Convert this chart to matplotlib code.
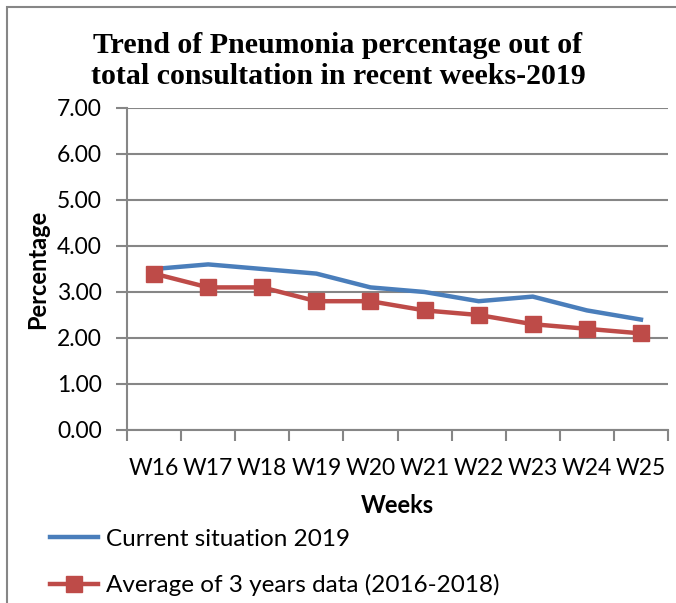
import matplotlib.pyplot as plt
import matplotlib.patches as patches
import numpy as np

# ---------- data ----------
weeks = ["W16", "W17", "W18", "W19", "W20", "W21", "W22", "W23", "W24", "W25"]
current_2019 = [3.5, 3.6, 3.5, 3.4, 3.1, 3.0, 2.8, 2.9, 2.6, 2.4]
avg_2016_2018 = [3.4, 3.1, 3.1, 2.8, 2.8, 2.6, 2.5, 2.3, 2.2, 2.1]

sans = ["Lato", "DejaVu Sans"]
serif = ["Liberation Serif", "DejaVu Serif"]

fig = plt.figure(figsize=(6.76, 6.03), dpi=100)
ax = fig.add_axes([127 / 676, 173 / 603, 541 / 676, 322 / 603])

x = np.arange(len(weeks))
ax.plot(x, current_2019, color="#4A7EBB", linewidth=3.2, label="Current situation 2019")
ax.plot(x, avg_2016_2018, color="#BE4B48", linewidth=3.2, marker="s", markersize=11,
        label="Average of 3 years data (2016-2018)")

ax.set_xlim(-0.5, len(weeks) - 0.5)
ax.set_ylim(0, 7)
ax.set_yticks(np.arange(0, 7.01, 1))
ax.set_yticklabels([f"{v:.2f}" for v in np.arange(0, 7.01, 1)], fontsize=16.5, family=sans)
ax.set_xticks(x)
ax.set_xticklabels(weeks, fontsize=16.5, family=sans)
ax.set_xticks(np.arange(-0.5, len(weeks), 1), minor=True)
ax.tick_params(axis="x", which="major", length=0, pad=20)
ax.tick_params(axis="x", which="minor", length=8, color="#868686", width=1.5)
ax.tick_params(axis="y", length=8, color="#868686", width=1.5, pad=10)

ax.grid(axis="y", color="#868686", linewidth=1.5)
ax.set_axisbelow(True)
for s in ["top", "right"]:
    ax.spines[s].set_visible(False)
for s in ["left", "bottom"]:
    ax.spines[s].set_color("#868686")
    ax.spines[s].set_linewidth(1.5)

ax.set_xlabel("Weeks", fontsize=17, fontweight="bold", family=sans, labelpad=11)
ax.set_ylabel("Percentage", fontsize=17, fontweight="bold", family=sans, labelpad=6)

fig.text(0.5, 1 - 61 / 603, "Trend of Pneumonia percentage out of\ntotal consultation in recent weeks-2019",
         ha="center", va="center", fontsize=21.5, fontweight="bold", family=serif, linespacing=1.15)

# chart frame (left/top edges visible)
fig.patches.append(patches.Rectangle((7 / 676, -0.1), 1.2, 1 - 7 / 603 + 0.1,
                                     transform=fig.transFigure, fill=False,
                                     edgecolor="#868686", linewidth=1.5))

fig.legend(loc="upper left", bbox_to_anchor=(40 / 676, 1 - 519 / 603), frameon=False,
           prop={"family": sans, "size": 17.5}, handlelength=2.0, handletextpad=0.3,
           labelspacing=1.0, borderaxespad=0)

fig.savefig("out.png", dpi=100)
